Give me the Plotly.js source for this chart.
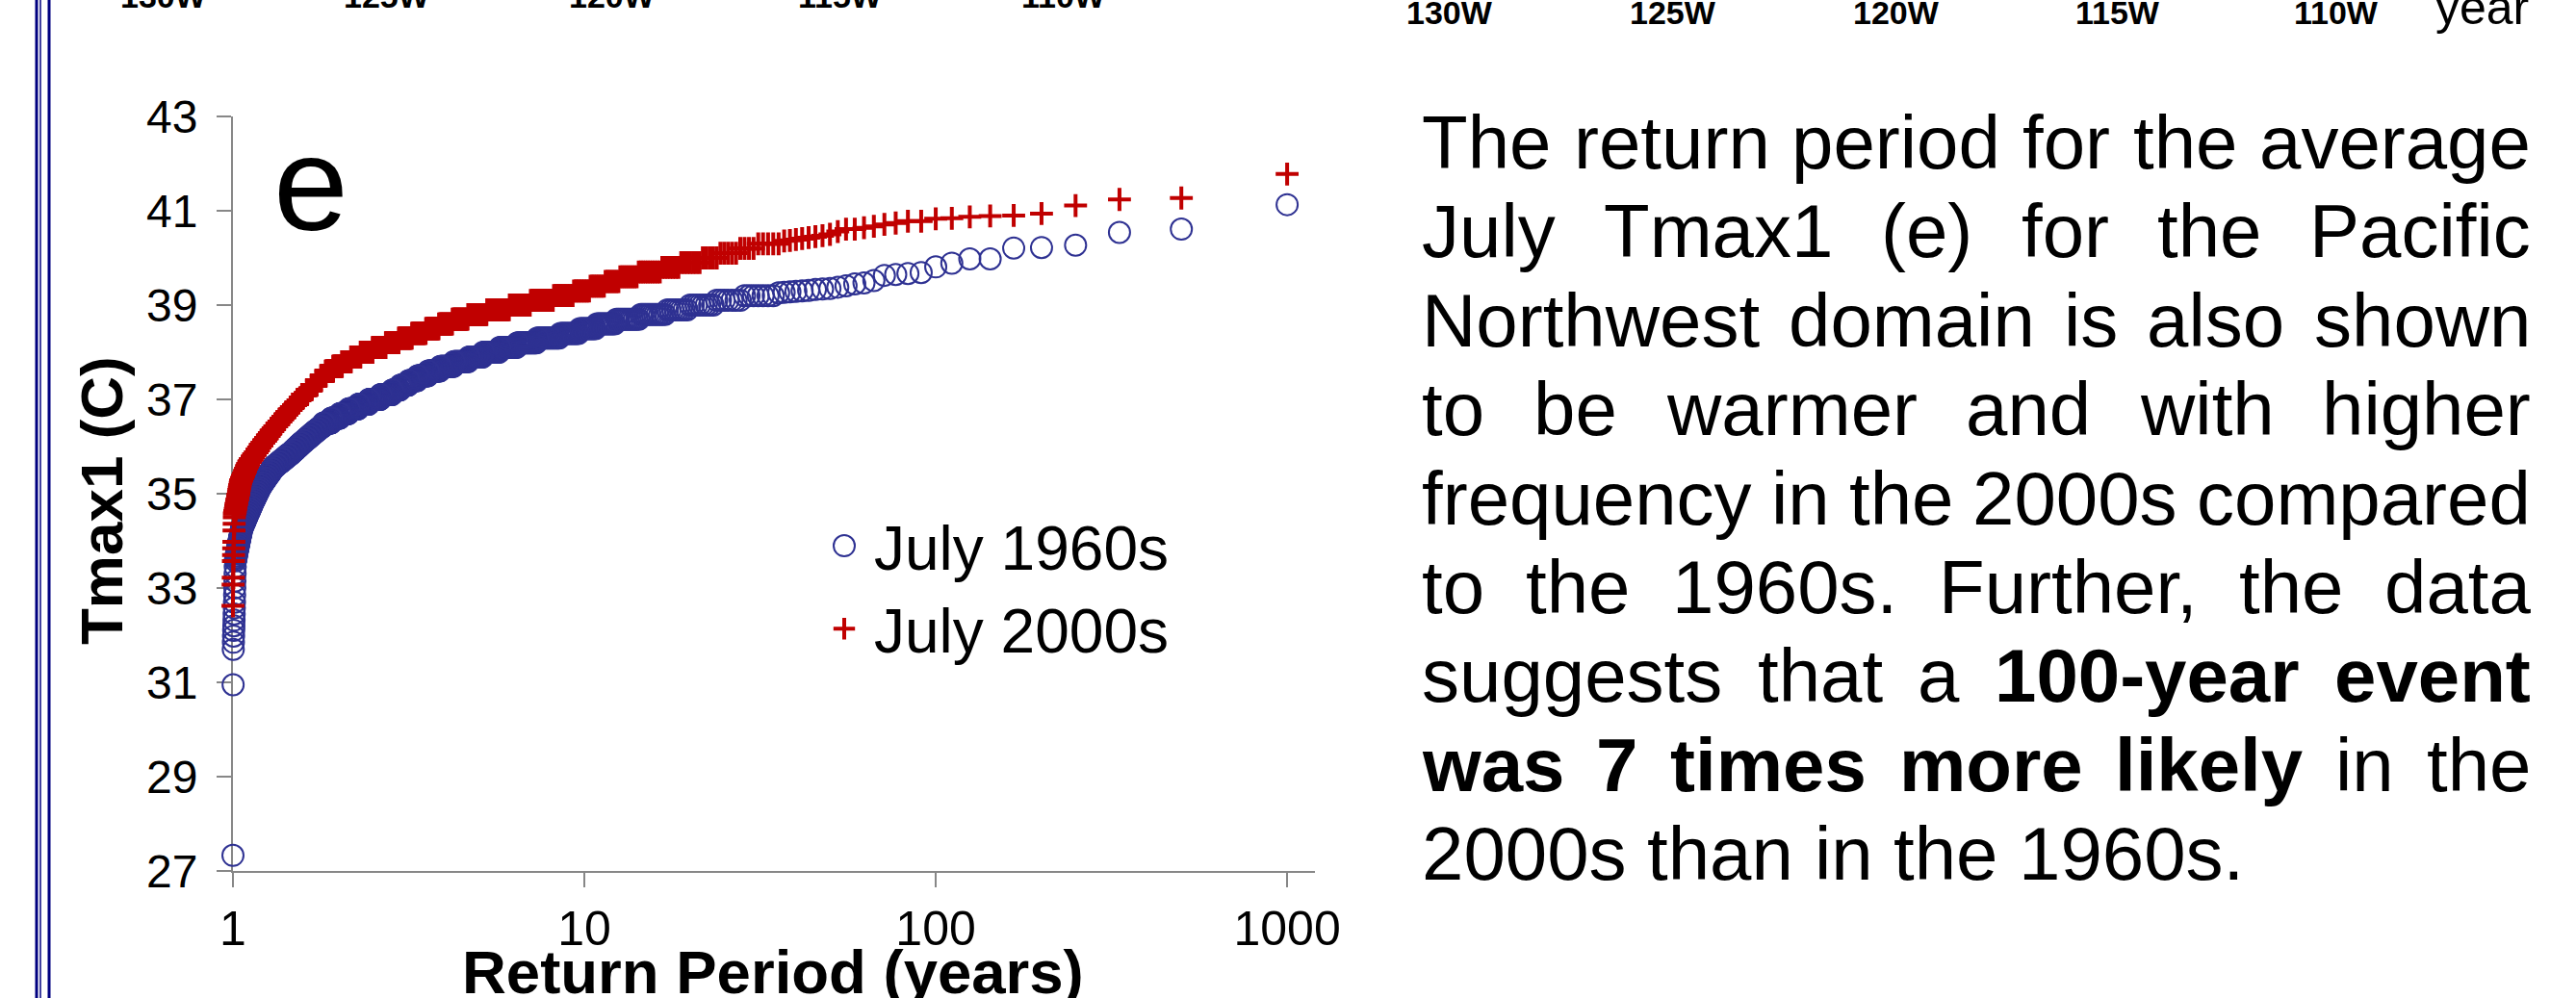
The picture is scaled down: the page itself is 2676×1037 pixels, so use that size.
<!DOCTYPE html>
<html><head><meta charset="utf-8">
<script src="https://cdn.plot.ly/plotly-3.0.1.min.js"></script>
<style>html,body{margin:0;padding:0;background:#fff;overflow:hidden}#chart{width:2676px;height:1037px}</style>
</head><body><div id="chart"></div>
<script>
// ---------------- data ----------------
// Sorted monthly Tmax1 values (deg C), highest first. Each level is listed with the
// number of ranked values found at that level; return period = recordYears / rank.
const recordYears = 1000;

const tmax1960Levels = [41.13, 40.61, 40.54, 40.27, 40.22, 40.21, 39.98, 39.89, 39.81, 39.69, 39.67, 39.65, 39.63, 39.52, 39.47, 39.45, 39.41, 39.38, 39.35, 39.34, 39.33, 39.31, 39.30, 39.29, 39.28, 39.27, 39.26,
  39.2, 39.1, 39.0, 38.9, 38.8, 38.7, 38.6, 38.5, 38.4, 38.3, 38.2, 38.1, 38.0, 37.9, 37.8, 37.7, 37.6, 37.5, 37.4, 37.3, 37.2, 37.1, 37.0, 36.9, 36.8, 36.7, 36.6, 36.5,
  36.43, 36.38, 36.33, 36.28, 36.23, 36.18, 36.13, 36.08, 36.03, 35.98, 35.93, 35.88, 35.83, 35.78, 35.73, 35.68, 35.63, 35.58, 35.53, 35.48, 35.43, 35.38, 35.33, 35.28, 35.23, 35.18, 35.13, 35.08, 35.03, 34.98, 34.93, 34.88, 34.83, 34.78, 34.73, 34.68, 34.63, 34.58, 34.53, 34.48, 34.43, 34.38, 34.33, 34.28, 34.23, 34.18, 34.13, 34.08, 34.03, 33.98, 33.93, 33.88, 33.83, 33.78, 33.73, 33.68, 33.63, 33.58,
  33.45, 33.30, 33.15, 33.00, 32.85, 32.70, 32.58, 32.45, 32.32, 32.20, 32.10, 31.98, 31.85, 31.70, 30.95, 27.33];
const tmax1960Counts = [1, 1, 1, 1, 1, 1, 2, 1, 1, 1, 1, 1, 1, 1, 1, 1, 1, 1, 1, 1, 1, 1, 1, 1, 1, 1, 1,
  7, 7, 8, 8, 11, 12, 11, 11, 14, 19, 19, 19, 20, 19, 22, 22, 21, 20, 18, 18, 18, 28, 30, 29, 29, 28, 29, 27,
  11, 11, 11, 11, 11, 11, 11, 11, 11, 11, 11, 11, 14, 13, 14, 14, 14, 13, 9, 8, 9, 8, 9, 9, 8, 8, 7, 6, 7, 6, 7, 6, 6, 6, 6, 6, 6, 6, 6, 6, 6, 6, 6, 5, 3, 3, 3, 3, 3, 3, 3, 3, 3, 3, 3, 2, 3, 2,
  1, 1, 1, 1, 1, 1, 1, 1, 1, 1, 1, 1, 1, 1, 1, 1];

const tmax2000Levels = [41.78, 41.27, 41.24, 41.11, 40.94, 40.90, 40.89, 40.87, 40.84, 40.83, 40.78, 40.74, 40.71, 40.67, 40.64, 40.61, 40.56, 40.50, 40.47, 40.45, 40.43, 40.41, 40.39, 40.37, 40.36,
  40.3, 40.2, 40.1, 40.0, 39.9, 39.8, 39.7, 39.6, 39.5, 39.4, 39.3, 39.2, 39.1, 39.0, 38.9, 38.8, 38.7, 38.6, 38.5, 38.4, 38.3, 38.2, 38.1, 38.0, 37.9, 37.8, 37.7, 37.6, 37.5, 37.4, 37.3, 37.2, 37.1,
  37.03, 36.98, 36.93, 36.88, 36.83, 36.78, 36.73, 36.68, 36.63, 36.58, 36.53, 36.48, 36.43, 36.38, 36.33, 36.28, 36.23, 36.18, 36.13, 36.08, 36.03, 35.98, 35.93, 35.88, 35.83, 35.78, 35.73, 35.68, 35.63, 35.58, 35.53, 35.48, 35.43, 35.38, 35.33, 35.28, 35.23, 35.18, 35.13, 35.08, 35.03, 34.98, 34.93, 34.88, 34.83, 34.78, 34.73, 34.68, 34.63, 34.58,
  34.50, 34.36, 34.22, 33.98, 33.84, 33.70, 33.57, 33.22, 33.07, 32.62];
const tmax2000Counts = [1, 1, 1, 1, 1, 1, 1, 1, 1, 1, 2, 1, 1, 1, 1, 2, 1, 1, 1, 1, 1, 1, 1, 1, 1,
  5, 4, 5, 5, 7, 7, 10, 9, 8, 9, 11, 15, 20, 21, 26, 25, 23, 22, 23, 27, 28, 30, 33, 33, 28, 28, 29, 26, 17, 18, 18, 18, 19,
  10, 9, 10, 9, 10, 10, 10, 9, 10, 9, 10, 10, 10, 9, 10, 9, 10, 9, 10, 9, 10, 9, 9, 9, 10, 9, 10, 9, 7, 6, 6, 6, 6, 6, 6, 6, 3, 3, 3, 2, 3, 3, 3, 3, 3, 3, 3, 2, 3, 3,
  1, 1, 1, 1, 1, 1, 1, 1, 1, 1];

const seriesNames = ['July 1960s', 'July 2000s'];
const xTickValues = [1, 10, 100, 1000];
const xTickLabels = ['1', '10', '100', '1000'];
const yTickValues = [27, 29, 31, 33, 35, 37, 39, 41, 43];
const mapLabelsLeft = ['130W', '125W', '120W', '115W', '110W'];
const mapLabelsRight = ['130W', '125W', '120W', '115W', '110W'];
const paragraphLines = [
  [['The return period for the average', false]],
  [['July Tmax1 (e) for the Pacific', false]],
  [['Northwest domain is also shown', false]],
  [['to be warmer and with higher', false]],
  [['frequency in the 2000s compared', false]],
  [['to the 1960s. Further, the data', false]],
  [['suggests that a', false], ['100-year event', true]],
  [['was 7 times more likely', true], ['in the', false]],
  [['2000s than in the 1960s.', false]]
];

// ---------------- helpers ----------------
function expandLevels(levels, counts) {
  const out = [];
  levels.forEach((v, i) => { for (let k = 0; k < counts[i]; k++) out.push(v); });
  return out;
}
const y1960 = expandLevels(tmax1960Levels, tmax1960Counts);
const y2000 = expandLevels(tmax2000Levels, tmax2000Counts);
const x1960 = y1960.map((_, i) => recordYears / (i + 1));
const x2000 = y2000.map((_, i) => recordYears / (i + 1));

const W = 2676, H = 1037;
const PL = 242, PR = 1366, PT = 121, PB = 905;
const px2x = p => (p - PL) / (PR - PL);
const px2y = p => (PB - p) / (PB - PT);
const FONT = '"Liberation Sans", Arial, Helvetica, sans-serif';
const AXIS_GRAY = '#878787';
const BLUE = '#2E3192', RED = '#C00000';
const MID = 0.3465; // offset from baseline to the middle of a text box, in font sizes

const annotations = [];
function label(text, xpx, basePx, size, opts) {
  annotations.push(Object.assign({text: text, xref: 'paper', yref: 'paper', x: px2x(xpx), y: px2y(basePx - MID * size),
    xanchor: 'left', yanchor: 'middle', showarrow: false, borderpad: 0, font: {family: FONT, size: size, color: '#000'}}, opts || {}));
}
// panel letter
label('e', 283, 239, 140);
// axis titles
annotations.push({text: '<b>Tmax1 (C)</b>', textangle: -90, xref: 'paper', yref: 'paper', x: px2x(105), y: px2y(520),
  xanchor: 'center', yanchor: 'middle', showarrow: false, borderpad: 0, font: {family: FONT, size: 62, color: '#000'}});
label('<b>Return Period (years)</b>', 803, 1032, 63.5, {xanchor: 'center'});
// cut-off labels of the maps above
const leftCenters = [170, 402, 636, 873, 1105];
mapLabelsLeft.forEach((t, i) => label('<b>' + t + '</b>', leftCenters[i], 8, 34, {xanchor: 'center'}));
const rightCenters = [1506, 1738, 1970, 2200, 2427];
mapLabelsRight.forEach((t, i) => label('<b>' + t + '</b>', rightCenters[i], 25, 34, {xanchor: 'center'}));
label('year', 2529, 25, 50);

// justified paragraph
const PF = 78, LEFT = 1476, RIGHT = 2628, BASE0 = 175, LSTEP = 92.4;
const ctx = document.createElement('canvas').getContext('2d');
function tw(s, b) { ctx.font = (b ? 'bold ' : '') + PF + 'px "Liberation Sans"'; return ctx.measureText(s).width; }
paragraphLines.forEach((segs, li) => {
  const words = [];
  segs.forEach(([t, b]) => t.split(' ').forEach(s => words.push([s, b])));
  const widths = words.map(([s, b]) => tw(s, b));
  const total = widths.reduce((a, c) => a + c, 0);
  const justify = li < paragraphLines.length - 1;
  const gap = justify ? (RIGHT - LEFT - total) / (words.length - 1) : tw(' ', false);
  let x = LEFT;
  const base = BASE0 + LSTEP * li;
  words.forEach(([s, b], i) => {
    label(b ? '<b>' + s + '</b>' : s, x, base, PF);
    x += widths[i] + gap;
  });
});

// left navy frame lines
const shapes = [
  {x: 38, w: 3}, {x: 42, w: 1.5}, {x: 51, w: 3}
].map(l => ({type: 'line', xref: 'paper', yref: 'paper', x0: px2x(l.x), x1: px2x(l.x), y0: px2y(H + 20), y1: px2y(-20),
  line: {color: '#000080', width: l.w}}));

const traces = [
  {type: 'scatter', mode: 'markers', name: seriesNames[0], x: x1960, y: y1960, cliponaxis: false,
   marker: {symbol: 'circle-open', size: 22, color: BLUE, line: {color: BLUE, width: 2}}},
  {type: 'scatter', mode: 'markers', name: seriesNames[1], x: x2000, y: y2000, cliponaxis: false,
   marker: {symbol: 'cross-thin-open', size: 17, color: RED, line: {color: RED, width: 4}}}
];

const axisCommon = {showline: true, linecolor: AXIS_GRAY, linewidth: 2, ticks: 'outside', ticklen: 15, tickwidth: 2,
  tickcolor: AXIS_GRAY, showgrid: false, zeroline: false, layer: 'below traces', fixedrange: true};

const layout = {
  width: W, height: H,
  margin: {l: PL, r: W - PR, t: PT, b: H - PB, pad: 0},
  paper_bgcolor: '#fff', plot_bgcolor: '#fff',
  showlegend: true,
  legend: {x: px2x(846), y: px2y(519), xanchor: 'left', yanchor: 'top', bgcolor: 'rgba(0,0,0,0)', itemwidth: 52,
    font: {family: FONT, size: 64, color: '#000'}, tracegroupgap: 0},
  xaxis: Object.assign({}, axisCommon, {type: 'log', range: [0, Math.log10(1200)], tickvals: xTickValues, ticktext: xTickLabels,
    tickfont: {family: FONT, size: 50, color: '#000'}, ticklabelstandoff: 0}),
  yaxis: Object.assign({}, axisCommon, {range: [27, 43], tickvals: yTickValues,
    tickfont: {family: FONT, size: 48, color: '#000'}, ticklabelstandoff: 10}),
  annotations: annotations,
  shapes: shapes,
  hovermode: false
};

Plotly.newPlot('chart', traces, layout, {staticPlot: true, displayModeBar: false}).then(gd => {
  // legend circle drawn at the same size as the plotted circles
  const pts = gd.querySelectorAll('.legend .traces');
  if (pts.length) {
    const p = pts[0].querySelector('.legendpoints path.scatterpts');
    if (p) p.setAttribute('d', 'M11,0A11,11 0 1,1 0,-11A11,11 0 0,1 11,0Z');
  }
});
</script>
</body></html>
